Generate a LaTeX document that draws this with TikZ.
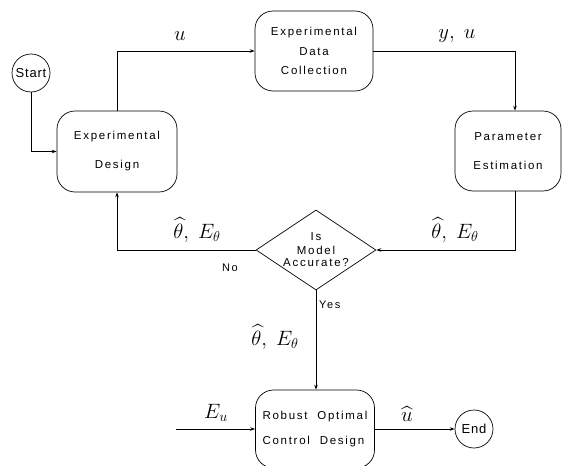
\documentclass[tikz,border=0pt]{standalone}
\usepackage{amsmath,amssymb}
\usepackage{fontspec}
\setmainfont{Liberation Sans}
\newfontfamily\boxfont[LetterSpace=15]{Liberation Sans}
\newfontfamily\endfont[LetterSpace=6]{Liberation Sans}
\usepackage{tikz}
\usetikzlibrary{arrows.meta,positioning,shapes.geometric,calc}
\definecolor{ink}{HTML}{000000}
\tikzset{
  stepcard/.style={draw=ink,rounded corners=18pt,line width=0.7pt,
                   inner sep=0pt,align=center,
                   font=\boxfont\fontsize{11.5}{13}\selectfont},
  endpoint/.style={draw=ink,circle,line width=0.7pt,minimum size=38pt,
                   inner sep=0pt,font=\endfont\fontsize{13}{15}\selectfont},
  decision/.style={draw=ink,diamond,line width=0.7pt,minimum width=120pt,
                   minimum height=80pt,inner sep=-16pt,align=center,
                   font=\boxfont\fontsize{11.5}{12.5}\selectfont},
  arrowthin/.style={-{Stealth[length=5pt,width=3.5pt]},line width=0.7pt,ink},
  flowlabel/.style={font=\huge,inner sep=0pt},
  smalltxt/.style={font=\boxfont\fontsize{11}{12}\selectfont,inner sep=0pt},
}

\begin{document}
\begin{tikzpicture}[x=1pt,y=-1pt]
  \clip (0,0) rectangle (563,466);
  % blocks
  \node[endpoint] (start) at (31,73) {Start};
  \node[stepcard,minimum width=120pt,minimum height=81pt]
    (design) at (117,151.5) {Experimental\\[16pt]Design};
  \node[stepcard,minimum width=118pt,minimum height=80pt]
    (collect) at (314,51) {Experimental\\[6.5pt]Data\\[6.5pt]Collection};
  \node[stepcard,minimum width=106pt,minimum height=80pt]
    (estim) at (508,151) {Parameter\\[16pt]Estimation};
  \node[decision] (check) at (316,250) {Is\\[1pt]Model\\Accurate?};
  \node[stepcard,minimum width=119pt,minimum height=78pt,align=left]
    (robust) at (315,429) {Robust\ \ Optimal\\[12pt]Control\ \ Design};
  \node[endpoint] (finish) at (474,429) {End};
  \coordinate (euin) at (176,429);
  % connectors
  \draw[arrowthin](start) |- (design.west);
  \draw[arrowthin](design) |- (collect.west);
  \draw[arrowthin](collect) -| ([xshift=7pt]estim.north);
  \draw[arrowthin]([xshift=7pt]estim.south) |- (check.east);
  \draw[arrowthin](check.west) -| (design.south);
  \draw[arrowthin](check.south) -- (check.south |- robust.north);
  \draw[arrowthin](euin) -- (robust.west);
  \draw[arrowthin](robust) -- (finish);
  % labels
  \node[flowlabel] (lu) at (180,36) {$u$};
  \node[flowlabel] (lyu) at (457,36) {$y,\ u$};
  \node[flowlabel] (lthleft) at (197,230) {$\widehat{\theta},\ E_\theta$};
  \node[flowlabel] (lthright) at (455,230) {$\widehat{\theta},\ E_\theta$};
  \node[flowlabel] (lthdown) at (275,337) {$\widehat{\theta},\ E_\theta$};
  \node[flowlabel] (leu) at (216,413) {$E_u$};
  \node[flowlabel] (luhat) at (407,414) {$\widehat{u}$};
  \node[smalltxt] (lno) at (230,268) {No};
  \node[smalltxt,anchor=west] (lyes) at (319,305) {Yes};
\end{tikzpicture}
\end{document}
